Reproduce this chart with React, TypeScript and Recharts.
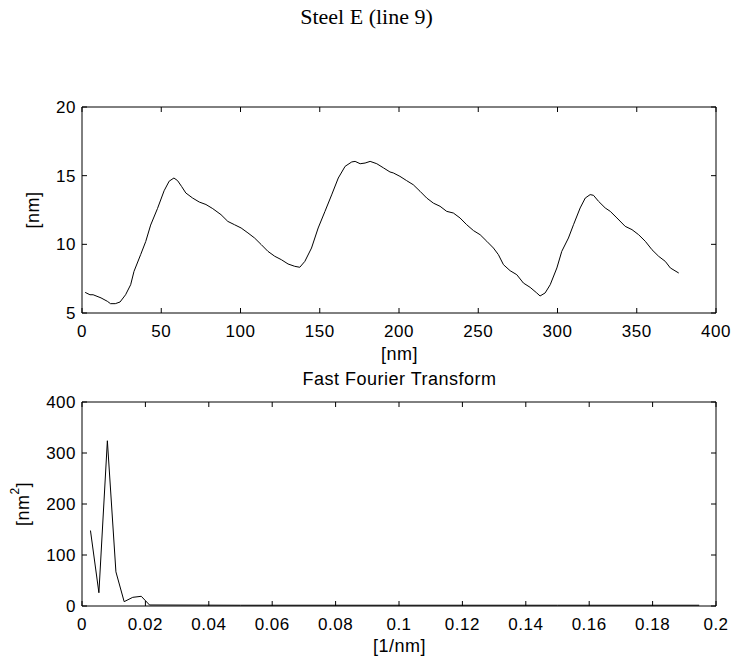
import { LineChart, Line, XAxis, YAxis } from 'recharts'

// profile: position along the line [nm] and height [nm]
const PROFILE_X = [
  2, 5, 7, 12, 16, 18, 21, 24, 27.5, 30.7, 32.8, 37, 40.2, 43.3, 47.6, 51.8, 55, 58, 60.3, 62.8,
  65.5, 69.8, 74, 78.2, 82.5, 87.7, 92, 96.2, 100.4, 104.7, 108.9, 113.1, 117.3, 121.6, 125.8,
  130, 134.2, 137.4, 140.6, 144.8, 149, 153.3, 157.5, 161.7, 166, 170.2, 172.3, 175.5, 178.6,
  181.8, 186, 190.3, 194.3, 196.4, 200.6, 204.8, 209, 213.3, 217.5, 221.7, 225.9, 230.1, 234.3,
  238.5, 242.7, 247, 251.2, 255.4, 259.6, 262.7, 265.9, 270.1, 274.3, 278.5, 282.7, 286.9, 289,
  292.2, 295.4, 299.6, 302.7, 306.9, 310.1, 314.3, 317.5, 320.6, 322.7, 325.9, 330.1, 333.3,
  337.5, 342.7, 347, 351.2, 355.4, 359.6, 363.8, 368, 371.2, 376.5,
]
const PROFILE_Y = [
  6.5, 6.33, 6.33, 6.1, 5.85, 5.68, 5.68, 5.8, 6.33, 7.06, 8.03, 9.25, 10.2, 11.4, 12.6, 13.9, 14.6,
  14.83, 14.64, 14.22, 13.74, 13.37, 13.08, 12.9, 12.6, 12.16, 11.67, 11.43, 11.19, 10.83, 10.46,
  9.98, 9.49, 9.13, 8.88, 8.57, 8.4, 8.33, 8.76, 9.73, 11.19, 12.4, 13.6, 14.83, 15.68, 16.0,
  16.04, 15.87, 15.92, 16.04, 15.87, 15.56, 15.27, 15.2, 14.95, 14.64, 14.34, 13.86, 13.37, 13.0,
  12.77, 12.4, 12.28, 11.92, 11.43, 11.0, 10.7, 10.22, 9.73, 9.25, 8.52, 8.08, 7.79, 7.18, 6.87,
  6.46, 6.24, 6.46, 7.06, 8.28, 9.49, 10.46, 11.43, 12.65, 13.37, 13.62, 13.57, 13.13, 12.65,
  12.4, 11.92, 11.31, 11.07, 10.7, 10.22, 9.61, 9.13, 8.76, 8.28, 7.91,
]

// fft: frequency [1/nm] and power [nm^2]
const FFT_F = [0.00267, 0.00533, 0.008, 0.0107, 0.0133, 0.016, 0.0187, 0.0213, 0.05, 0.1, 0.15, 0.1947]
const FFT_P = [148, 26, 324, 67, 8.5, 17, 19, 2, 1.5, 1.5, 1.5, 1.5]

const PROFILE_TICKS_X = [0, 50, 100, 150, 200, 250, 300, 350, 400]
const PROFILE_TICKS_Y = [5, 10, 15, 20]
const FFT_TICKS_X = [0, 0.02, 0.04, 0.06, 0.08, 0.1, 0.12, 0.14, 0.16, 0.18, 0.2]
const FFT_TICKS_Y = [0, 100, 200, 300, 400]

const profileData = PROFILE_X.map((x, i) => ({ x, y: PROFILE_Y[i] }))
const fftData = FFT_F.map((x, i) => ({ x, y: FFT_P[i] }))

const FONT = "'Liberation Sans', Arial, sans-serif"
const tickStyle = { fontSize: 17, letterSpacing: 0.5, fill: '#000', fontFamily: FONT }
const axisLine = { stroke: '#000', strokeWidth: 1 }
const blank = () => ''
const labelCss = { position: 'absolute' as const, left: 0, width: 733, textAlign: 'center' as const, fontSize: 18, letterSpacing: 0.5, paddingLeft: 66, boxSizing: 'border-box' as const, lineHeight: '20px' }

function YLabel({ viewBox, text, sup, dx }: any) {
  const cx = viewBox.x + dx
  const cy = viewBox.y + viewBox.height / 2
  return (
    <text x={cx} y={cy} transform={`rotate(-90 ${cx} ${cy})`} textAnchor="middle" dominantBaseline="central" fontSize={18} letterSpacing={0.5} fontFamily={FONT} fill="#000">
      {text}
      {sup && <tspan fontSize={12} dy={-8}>{sup}</tspan>}
      {sup && <tspan dy={8}>]</tspan>}
    </text>
  )
}

// matlab-like boxed axes with inward ticks on all four sides
function boxAxes(ticksX: number[], ticksY: number[], domX: number[], domY: number[], xFmt?: (v: number) => string) {
  return [
    <XAxis key="xb" xAxisId="b" dataKey="x" type="number" domain={domX} ticks={ticksX} orientation="bottom"
      tickSize={-5} tickMargin={17} tick={tickStyle} axisLine={axisLine} tickLine={axisLine} height={30}
      tickFormatter={xFmt} allowDataOverflow interval={0} />,
    <XAxis key="xt" xAxisId="t" dataKey="x" type="number" domain={domX} ticks={ticksX} orientation="top"
      tickSize={-5} tickFormatter={blank} axisLine={axisLine} tickLine={axisLine} height={5} allowDataOverflow interval={0} />,
    <YAxis key="yl" yAxisId="l" type="number" domain={domY} ticks={ticksY} orientation="left"
      tickSize={-5} tickMargin={11} tick={tickStyle} axisLine={axisLine} tickLine={axisLine} width={40} allowDataOverflow interval={0} />,
    <YAxis key="yr" yAxisId="r" type="number" domain={domY} ticks={ticksY} orientation="right"
      tickSize={-5} tickFormatter={blank} axisLine={axisLine} tickLine={axisLine} width={5} allowDataOverflow interval={0} />,
  ]
}

export default function App() {
  return (
    <div style={{ position: 'absolute', left: 0, top: 0, width: 733, height: 659, background: '#fff', fontFamily: FONT }}>
      <div style={{ position: 'absolute', left: 0, width: 733, top: 4, textAlign: 'center', fontFamily: "'Liberation Serif', 'Times New Roman', serif", fontSize: 22 }}>
        Steel E (line 9)
      </div>

      <div style={{ position: 'absolute', left: 0, top: 0 }}>
        <LineChart width={733} height={360} data={profileData} margin={{ top: 102, right: 12, bottom: 17, left: 42 }}>
          {boxAxes(PROFILE_TICKS_X, PROFILE_TICKS_Y, [0, 400], [5, 20])}
          <Line xAxisId="b" yAxisId="l" dataKey="y" stroke="#000" strokeWidth={1} dot={false} isAnimationActive={false} />
        </LineChart>
      </div>
      <div style={{ ...labelCss, top: 344 }}>[nm]</div>
      <svg style={{ position: 'absolute', left: 0, top: 0 }} width={80} height={659}>
        <YLabel viewBox={{ x: 0, y: 107, height: 206 }} text="[nm]" dx={33} />
        <YLabel viewBox={{ x: 0, y: 402, height: 204 }} text="[nm" sup="2" dx={23} />
      </svg>

      <div style={{ ...labelCss, top: 369 }}>Fast Fourier Transform</div>

      <div style={{ position: 'absolute', left: 0, top: 360 }}>
        <LineChart width={733} height={299} data={fftData} margin={{ top: 37, right: 12, bottom: 23, left: 42 }}>
          {boxAxes(FFT_TICKS_X, FFT_TICKS_Y, [0, 0.2], [0, 400], (v) => String(v))}
          <Line xAxisId="b" yAxisId="l" dataKey="y" stroke="#000" strokeWidth={1} dot={false} isAnimationActive={false} />
        </LineChart>
      </div>
      <div style={{ ...labelCss, top: 636 }}>[1/nm]</div>
    </div>
  )
}
